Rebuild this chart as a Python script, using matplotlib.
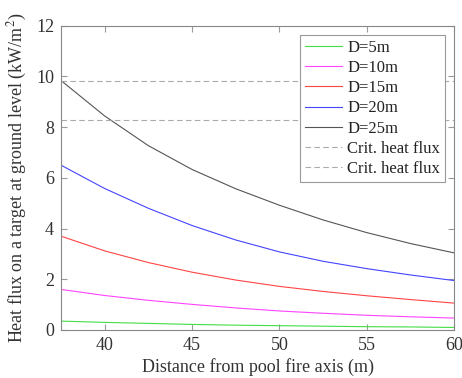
import matplotlib
matplotlib.use("Agg")
import matplotlib.pyplot as plt

# distance from pool fire axis (m)
distance = [37.5, 40, 42.5, 45, 47.5, 50, 52.5, 55, 57.5, 60]

# heat flux on target (kW/m^2) for each pool diameter
flux_d5 = [0.35, 0.30, 0.26, 0.22, 0.19, 0.17, 0.15, 0.13, 0.12, 0.10]
flux_d10 = [1.60, 1.36, 1.17, 1.01, 0.87, 0.75, 0.66, 0.58, 0.52, 0.47]
flux_d15 = [3.70, 3.12, 2.66, 2.28, 1.97, 1.72, 1.52, 1.35, 1.20, 1.06]
flux_d20 = [6.50, 5.58, 4.80, 4.12, 3.55, 3.08, 2.71, 2.42, 2.17, 1.95]
flux_d25 = [9.84, 8.44, 7.27, 6.33, 5.57, 4.92, 4.34, 3.84, 3.41, 3.04]

crit_flux = [9.8, 8.3]

plt.rcParams['font.family'] = ['Liberation Serif', 'DejaVu Serif']
plt.rcParams['mathtext.fontset'] = 'stix'

fig, ax = plt.subplots(figsize=(4.62, 3.78), dpi=100)
fig.subplots_adjust(left=0.132, right=0.983, top=0.932, bottom=0.127)

ax.plot(distance, flux_d5, color='#44dd44', lw=0.8, label='D=5m')
ax.plot(distance, flux_d10, color='#ff44ff', lw=0.8, label='D=10m')
ax.plot(distance, flux_d15, color='#ff4444', lw=0.8, label='D=15m')
ax.plot(distance, flux_d20, color='#4444ff', lw=0.8, label='D=20m')
ax.plot(distance, flux_d25, color='#555555', lw=0.8, label='D=25m')
for c in crit_flux:
    ax.axhline(c, color='#aaaaaa', lw=0.8, ls=(0, (5, 3)), label='Crit. heat flux')

ax.set_xlim(37.5, 60)
ax.set_ylim(0, 12)
ax.set_xticks([40, 45, 50, 55, 60])
ax.set_yticks([0, 2, 4, 6, 8, 10, 12])

for s in ax.spines.values():
    s.set_color('#888888')
    s.set_linewidth(0.8)
ax.tick_params(direction='in', top=True, right=True, length=4, width=0.8,
               color='#999999', labelsize=13, labelcolor='#333333', pad=5)

ax.set_xlabel('Distance from pool fire axis (m)', fontsize=13, color='#333333',
              labelpad=3)
ax.set_ylabel('Heat flux on a target at ground level (kW/m$^2$)', fontsize=13,
              color='#333333', labelpad=5)

leg = ax.legend(loc='upper right', fontsize=12, fancybox=False, framealpha=1,
                edgecolor='#999999', handlelength=2.2, handletextpad=0.3,
                borderaxespad=0.55, labelspacing=0.25, borderpad=0.3)
leg.get_frame().set_linewidth(0.8)
for t in leg.get_texts():
    t.set_color('#222222')

fig.savefig('out.png', dpi=100)
